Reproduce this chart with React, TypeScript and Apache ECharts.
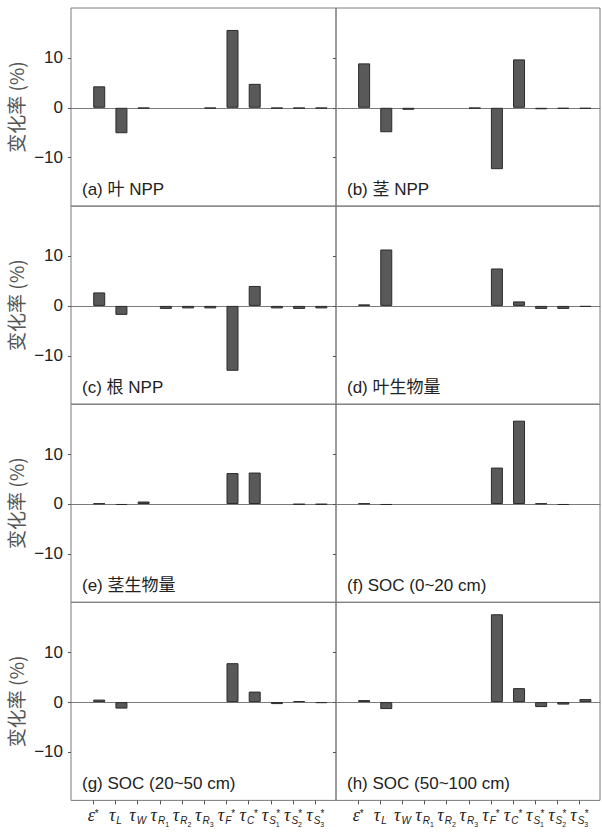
import React, { useEffect, useRef } from "react";
import * as echarts from "echarts";

// Categories (x) and their rich-text tick labels
const categories = ["ε*", "τL", "τW", "τR1", "τR2", "τR3", "τF*", "τC*", "τS1*", "τS2*", "τS3*"];
const tickLabels = [
  "{g|ε}{p|*}",
  "{g|τ}{s|L}",
  "{g|τ}{s|W}",
  "{g|τ}{s|R}{d|1}",
  "{g|τ}{s|R}{d|2}",
  "{g|τ}{s|R}{d|3}",
  "{g|τ}{s|F}{p|*}",
  "{g|τ}{s|C}{p|*}",
  "{g|τ}{s|S}{d|1}{q|*}",
  "{g|τ}{s|S}{d|2}{q|*}",
  "{g|τ}{s|S}{d|3}{q|*}",
];
const yTicks = [-10, 0, 10];
const yMin = -19.7;
const yMax = 20;
const yName = "变化率 (%)";

const panelTitles = [
  "(a) 叶 NPP",
  "(b) 茎 NPP",
  "(c) 根 NPP",
  "(d) 叶生物量",
  "(e) 茎生物量",
  "(f) SOC (0~20 cm)",
  "(g) SOC (20~50 cm)",
  "(h) SOC (50~100 cm)",
];

// Change rate (%) per category, 0 = no bar
const leafNPP = [4.3, -5.1, -0.1, 0, 0, -0.1, 15.6, 4.8, -0.1, -0.1, -0.1];
const stemNPP = [8.9, -4.9, -0.4, 0, 0, -0.1, -12.3, 9.7, -0.3, -0.2, -0.2];
const rootNPP = [2.7, -1.8, 0, -0.6, -0.5, -0.5, -13.0, 4.0, -0.5, -0.6, -0.5];
const leafBiomass = [0.3, 11.3, 0, 0, 0, 0, 7.5, 0.9, -0.6, -0.6, -0.2];
const stemBiomass = [0.1, -0.2, 0.5, 0, 0, 0, 6.2, 6.3, 0, -0.1, -0.1];
const soc0to20 = [0.1, -0.2, 0, 0, 0, 0, 7.3, 16.7, 0.1, -0.2, 0];
const soc20to50 = [0.5, -1.3, 0, 0, 0, 0, 7.8, 2.1, -0.4, 0.2, -0.2];
const soc50to100 = [0.4, -1.4, 0, 0, 0, 0, 17.6, 2.8, -1.0, -0.5, 0.6];

const panelSeries = [leafNPP, stemNPP, rootNPP, leafBiomass, stemBiomass, soc0to20, soc20to50, soc50to100];

// layout
const TOP = 8;
const ROW_H = 198.1;
const COL_LEFT = [71, 336];
const COL_W = [265, 264];
const X_MAX = 10.93;

const FRAME = "#7a7a7a";
const INK = "#222";
const SANS = "'Liberation Sans', Arial, 'Noto Sans CJK SC', sans-serif";

function buildOption() {
  const grid: any[] = [];
  const xAxis: any[] = [];
  const yAxis: any[] = [];
  const series: any[] = [];
  const graphic: any[] = [];
  const tickIdx = categories.map((_, i) => i);

  panelSeries.forEach((vals, p) => {
    const r = Math.floor(p / 2);
    const c = p % 2;
    const L = COL_LEFT[c];
    const W = COL_W[c];
    const T = TOP + r * ROW_H;
    const H = ROW_H;
    const s = W / (X_MAX + 1);
    const bottomRow = r === 3;
    const fg = 2 * p;
    const dg = 2 * p + 1;

    grid.push({
      left: L, top: T, width: W, height: H,
      show: true, borderColor: FRAME, borderWidth: 1, backgroundColor: "rgba(0,0,0,0)",
      containLabel: false, outerBoundsMode: "none",
    });
    grid.push({
      left: L + s / 2 + 6, top: T, width: 11 * s, height: H,
      containLabel: false, outerBoundsMode: "none",
    });

    // frame bottom axis: ticks & labels
    xAxis.push({
      type: "value", gridIndex: fg, min: -1, max: X_MAX, position: "bottom",
      axisLine: { show: false, onZero: false },
      splitLine: { show: false },
      axisTick: { show: bottomRow, customValues: tickIdx, length: 4, lineStyle: { color: "#555" } },
      axisLabel: {
        show: bottomRow, customValues: tickIdx, margin: 1, lineHeight: 28,
        showMinLabel: true, showMaxLabel: true, hideOverlap: false,
        formatter: (v: number) => tickLabels[Math.round(v)] ?? "",
        rich: {
          g: { fontFamily: "'Liberation Serif', serif", fontStyle: "italic", fontSize: 18, color: INK },
          s: { fontFamily: SANS, fontStyle: "italic", fontSize: 10, color: INK, padding: [11, 0, 0, 1] },
          d: { fontFamily: SANS, fontSize: 7, color: INK, padding: [18, 0, 0, 0] },
          p: { fontFamily: SANS, fontSize: 10, color: INK, padding: [0, 0, 4, 0] },
          q: { fontFamily: SANS, fontSize: 10, color: INK, padding: [0, 0, 4, -3.6] },
        },
      },
    });
    // frame zero line
    xAxis.push({
      type: "value", gridIndex: fg, min: -1, max: X_MAX, position: "top",
      axisLine: { show: true, onZero: true, lineStyle: { color: FRAME, width: 1 } },
      axisTick: { show: false }, axisLabel: { show: false }, splitLine: { show: false },
    });
    // data category axis
    xAxis.push({ type: "category", gridIndex: dg, data: categories, show: false });

    yAxis.push({
      type: "value", gridIndex: fg, min: yMin, max: yMax, position: "left",
      axisLine: { show: false, onZero: false },
      splitLine: { show: false },
      axisTick: { show: true, customValues: yTicks, length: 3, lineStyle: { color: "#555" } },
      axisLabel: {
        show: c === 0, customValues: yTicks, margin: 8, fontSize: 17, color: INK, fontFamily: SANS,
        formatter: (v: number) => (v < 0 ? "\u2212" + Math.abs(v) : String(v)),
      },
      name: c === 0 ? yName : "",
      nameLocation: "middle",
      nameGap: 46,
      nameTextStyle: { fontSize: 19, color: "#555", fontFamily: "'Noto Sans CJK SC', sans-serif" },
    });
    yAxis.push({ type: "value", gridIndex: dg, min: yMin, max: yMax, show: false });

    series.push({
      type: "bar",
      xAxisIndex: 3 * p + 2,
      yAxisIndex: dg,
      data: vals.map((v) => (v === 0 ? null : v)),
      barWidth: 12,
      itemStyle: { color: "#595959", borderColor: "#2b2b2b", borderWidth: 1 },
      silent: true,
    });

    graphic.push({
      type: "text",
      x: L + 11,
      y: T + H - 17,
      style: {
        text: panelTitles[p], fontSize: 17, fontFamily: SANS, fill: INK,
        align: "left", verticalAlign: "middle",
      },
    });
  });

  return {
    animation: false,
    backgroundColor: "#fff",
    grid, xAxis, yAxis, series, graphic,
  };
}

export default function App() {
  const ref = useRef<HTMLDivElement>(null);
  useEffect(() => {
    if (!ref.current) return;
    const chart = echarts.init(ref.current, undefined, { renderer: "svg" });
    chart.setOption(buildOption() as any);
    return () => chart.dispose();
  }, []);
  return (
    <div
      ref={ref}
      style={{ position: "absolute", left: 0, top: 0, width: 602, height: 837, background: "#fff" }}
    />
  );
}
